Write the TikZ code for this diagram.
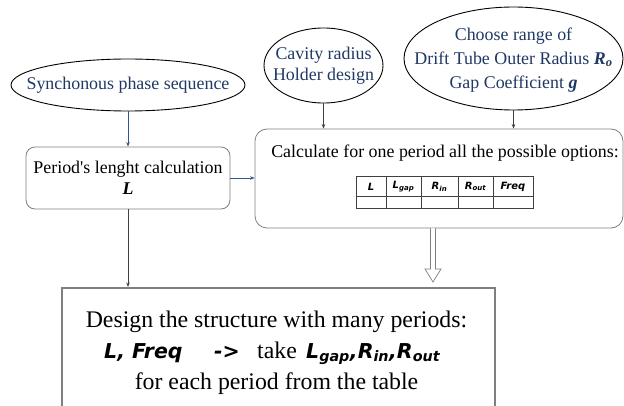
\documentclass[tikz,border=0pt]{standalone}
\usepackage{fontspec}
\setmainfont{Liberation Serif}
\newfontfamily\comic{DejaVu Sans}
\usetikzlibrary{shapes.geometric,arrows.meta,calc}
\definecolor{navy}{HTML}{1F3864}
\definecolor{arrblue}{HTML}{2F5597}
\definecolor{boxgray}{HTML}{7F7F7F}
\definecolor{linegray}{HTML}{404040}
\begin{document}
\begin{tikzpicture}[x=1pt,y=-1pt,
  ellshape/.style={ellipse,draw=black,line width=0.9pt,inner sep=0pt},
  etext/.style={text=navy,align=center,inner sep=0pt,font=\fontsize{17.9}{21}\selectfont},
  rbox/.style={rectangle,rounded corners=9pt,draw=boxgray,line width=0.8pt,inner sep=0pt},
  btext/.style={align=center,inner sep=0pt,font=\fontsize{17.9}{21}\selectfont},
  bigtext/.style={inner sep=0pt,font=\fontsize{23.8}{31}\selectfont},
  comicB/.style={inner sep=0pt,font=\fontsize{20.5}{24}\selectfont\comic\bfseries\itshape},
  thead/.style={inner sep=0pt,font=\fontsize{10}{12}\selectfont\comic\bfseries\itshape},
  tbl/.style={draw=linegray,line width=0.6pt},
  conn/.style={-{Stealth[length=4.5pt,width=3.5pt]},line width=0.7pt,draw=linegray},
  bconn/.style={-{Stealth[length=4.5pt,width=3.5pt]},line width=0.7pt,draw=arrblue},
  hollow/.style={draw=boxgray,fill=white,line width=0.7pt,line join=miter}
]
\useasboundingbox (0,0) rectangle (624,406);
\clip (0,0) rectangle (624,406);

% ellipses
\node[ellshape,minimum width=234pt,minimum height=52pt] (sync) at (128,85) {};
\node[etext] (syncT) at (128,85) {Synchonous phase sequence};

\node[ellshape,minimum width=119pt,minimum height=75pt] (cav) at (323.5,65.5) {};
\node[etext] (cavT) at (323.5,65.5) {Cavity radius\\Holder design};

\node[ellshape,minimum width=219pt,minimum height=103pt] (choose) at (513.5,58.5) {};
\node[etext,font=\fontsize{17.9}{24}\selectfont] (chooseT) at (513.5,60) {Choose range of\\Drift Tube Outer Radius \textbf{\textit{R\textsubscript{o}}}\\Gap Coefficient \textbf{\textit{g}}};

% rounded boxes
\node[rbox,minimum width=204pt,minimum height=62pt,btext] (period) at (128,178) {Period\textquotesingle s lenght calculation\\\textbf{\textit{L}}};

\node[rbox,rounded corners=12pt,minimum width=368pt,minimum height=99pt] (calc) at (439,178.5) {};
\node[btext,anchor=base] (calcT) at (445,158) {Calculate for one period all the possible options:};

% table
\draw[tbl] (356,176) rectangle (533,208);
\draw[tbl] (356,196.5) -- (533,196.5);
\draw[tbl] (386,176) -- (386,208);
\draw[tbl] (421,176) -- (421,208);
\draw[tbl] (458,176) -- (458,208);
\draw[tbl] (493,176) -- (493,208);
\node[thead] (hL) at (371,186.5) {L};
\node[thead] (hLg) at (403.5,186.5) {L\textsubscript{gap}};
\node[thead] (hRi) at (439.5,186.5) {R\textsubscript{in}};
\node[thead] (hRo) at (475.5,186.5) {R\textsubscript{out}};
\node[thead] (hF) at (513,186.5) {Freq};

% bottom box
\node[rectangle,draw=boxgray,line width=1.5pt,minimum width=433pt,minimum height=160pt,anchor=north west,inner sep=0pt] (design) at (61,287) {};
\node[bigtext,anchor=base] (d1) at (276.5,327) {Design the structure with many periods:};
\node[comicB,anchor=base west] (d2a) at (104,358) {L, Freq};
\node[comicB,anchor=base west] (d2b) at (214,358) {->};
\node[bigtext,anchor=base west] (d2c) at (257,358) {take};
\node[comicB,anchor=base west] (d2d) at (306,358) {L\textsubscript{gap},R\textsubscript{in},R\textsubscript{out}};
\node[bigtext,anchor=base] (d3) at (276.5,389) {for each period from the table};

% connectors
\draw[bconn] (sync.south) -- (period.north);
\draw[bconn] (period.east) -- (period.east -| calc.west);
\draw[conn] (cav.south) -- (cav.south |- calc.north);
\draw[conn] (choose.south) -- (choose.south |- calc.north);
\draw[conn] (period.south) -- (period.south |- design.north);

% hollow arrow
\coordinate (hs) at (433,228.5);
\coordinate (he) at (433,282);
\draw[hollow] ($(hs)+(-2.5,0)$) -- ($(he)+(-2.5,-13)$) -- ($(he)+(-8,-13)$) -- (he)
  -- ($(he)+(8,-13)$) -- ($(he)+(2.5,-13)$) -- ($(hs)+(2.5,0)$);
\end{tikzpicture}
\end{document}
